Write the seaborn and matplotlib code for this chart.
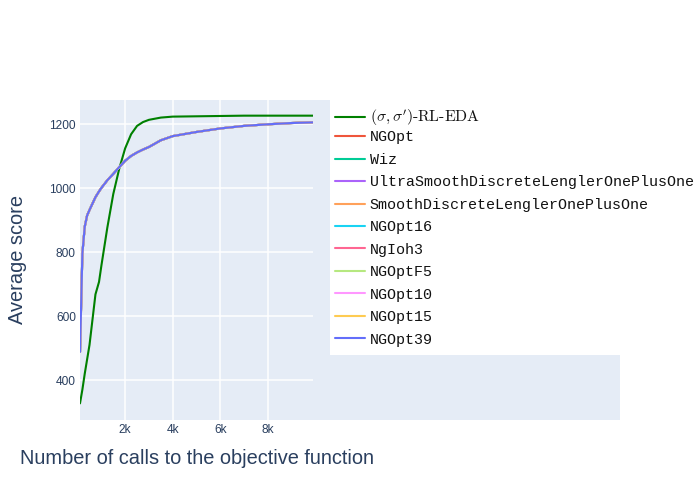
import pandas as pd
import seaborn as sns
import matplotlib.pyplot as plt
from matplotlib.lines import Line2D
from matplotlib.patches import Rectangle

# budgets (number of calls) and average scores
budgets = [100, 200, 300, 400, 500, 750, 900, 1000, 1250, 1500, 1750, 2000,
           2250, 2500, 2750, 3000, 3500, 4000, 5000, 6000, 7000, 8000, 9000, 9900]
rl_eda_score = [327, 370, 420, 465, 510, 668, 707, 758, 877, 982, 1061, 1125,
                1169, 1195, 1207, 1214, 1221, 1224, 1225, 1226, 1227, 1227, 1227, 1227]
ng_score = [488, 796, 880, 915, 932, 972, 990, 1001, 1025, 1045, 1066, 1086,
            1101, 1112, 1121, 1129, 1150, 1163, 1176, 1187, 1195, 1200, 1204, 1206]

methods = ["RL-EDA", "NGOpt", "Wiz", "UltraSmoothDiscreteLenglerOnePlusOne",
           "SmoothDiscreteLenglerOnePlusOne", "NGOpt16", "NgIoh3", "NGOptF5",
           "NGOpt10", "NGOpt15", "NGOpt39"]
colors = ["#008000", "#EF553B", "#00CC96", "#AB63FA", "#FFA15A", "#19D3F3",
          "#FF6692", "#B6E880", "#FF97FF", "#FECB52", "#636EFA"]
legend_labels = [r"$(\sigma,\sigma^{\prime})$-RL-EDA"] + methods[1:]

rows = []
for m in methods:
    scores = rl_eda_score if m == "RL-EDA" else ng_score
    for b, s in zip(budgets, scores):
        rows.append({"budget": b, "score": s, "method": m})
df = pd.DataFrame(rows)

sns.set_style("darkgrid", {"axes.facecolor": "#E5ECF6", "grid.color": "white"})
plt.rcParams["font.family"] = ["Liberation Sans", "DejaVu Sans"]
plt.rcParams["mathtext.fontset"] = "cm"

W, H = 700, 500
fig = plt.figure(figsize=(7, 5), dpi=100)
fig.patches.append(Rectangle((80 / W, 80 / H), 540 / W, 320 / H, transform=fig.transFigure,
                             facecolor="#E5ECF6", edgecolor="none", zorder=-1))
fig.patches.append(Rectangle((330 / W, 145 / H), 370 / W, 255 / H, transform=fig.transFigure,
                             facecolor="white", edgecolor="none", zorder=1))

ax = fig.add_axes([80 / W, 80 / H, 233 / W, 320 / H])
sns.lineplot(data=df, x="budget", y="score", hue="method", hue_order=methods,
             palette=dict(zip(methods, colors)), linewidth=1.5, legend=False, ax=ax)

ax.set_xlim(100, 9900)
ax.set_ylim(275, 1276)
ax.set_xticks([2000, 4000, 6000, 8000])
ax.set_xticklabels(["2k", "4k", "6k", "8k"])
ax.set_yticks([400, 600, 800, 1000, 1200])
ax.grid(True, color="white", linewidth=1.1)
for s in ax.spines.values():
    s.set_visible(False)
ax.tick_params(length=0, labelsize=8.6, labelcolor="#2a3f5f", pad=3)

ax.set_xlabel("Number of calls to the objective function", fontsize=14.4, color="#2a3f5f")
ax.set_ylabel("Average score", fontsize=14.4, color="#2a3f5f")
ax.xaxis.set_label_coords(0.5, -0.119)
ax.xaxis.label.set_verticalalignment("center")
ax.yaxis.set_label_coords(-0.270, 0.5)
ax.yaxis.label.set_verticalalignment("center")

handles = [Line2D([0], [0], color=c, linewidth=1.5) for c in colors]
leg_kw = dict(loc="upper left", frameon=False,
              prop={"family": "Liberation Mono", "size": 10.8},
              handlelength=2.0, handletextpad=0.35, labelspacing=0.563,
              borderaxespad=0, borderpad=0.3)
# first entry has math text, keep it apart so the other rows space evenly
leg1 = fig.legend(handles[:1], legend_labels[:1], bbox_to_anchor=(330 / W, 1 - 102.5 / H), **leg_kw)
leg2 = fig.legend(handles[1:], legend_labels[1:], bbox_to_anchor=(330 / W, 1 - 126 / H), **leg_kw)
for leg in (leg1, leg2):
    for t in leg.get_texts():
        t.set_color("#111111")
    leg.set_zorder(2)
leg1.get_texts()[0].set_family(["cmr10", "DejaVu Serif"])
leg1.get_texts()[0].set_fontsize(11.3)

fig.savefig("out.png", dpi=100)
